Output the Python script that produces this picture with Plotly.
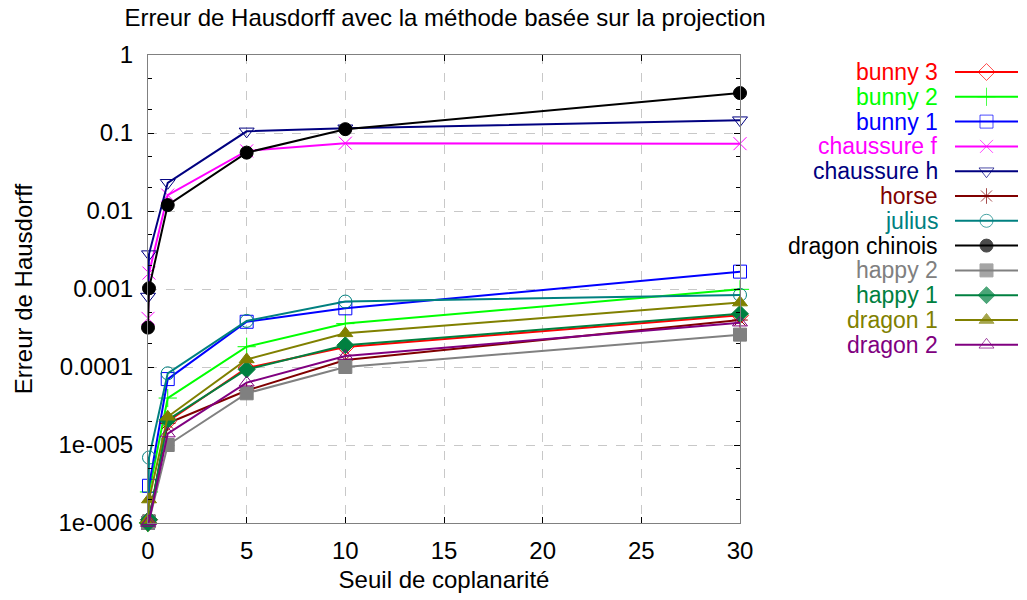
import plotly.graph_objects as go

# ---- data ----
x_seuil = [0, 0.05, 1, 5, 10, 30]

names = ["bunny 3", "bunny 2", "bunny 1", "chaussure f", "chaussure h", "horse",
         "julius", "dragon chinois", "happy 2", "happy 1", "dragon 1", "dragon 2"]

bunny_3 = [1e-6, 1.1e-6, 2.0e-5, 9.7e-5, 1.8e-4, 4.6e-4]
bunny_2 = [1e-6, 2.5e-6, 4.0e-5, 1.82e-4, 3.6e-4, 9.9e-4]
bunny_1 = [1e-6, 3.0e-6, 7.0e-5, 3.8e-4, 5.65e-4, 1.67e-3]
chaussure_f = [4.2e-4, 1.6e-3, 1.6e-2, 5.9e-2, 7.4e-2, 7.3e-2]
chaussure_h = [8.0e-4, 2.8e-3, 2.3e-2, 1.05e-1, 1.15e-1, 1.46e-1]
horse = [1e-6, 1.1e-6, 1.9e-5, 5.0e-5, 1.23e-4, 4.0e-4]
julius = [1e-6, 6.9e-6, 8.3e-5, 3.9e-4, 6.9e-4, 8.4e-4]
dragon_chinois = [3.2e-4, 1.02e-3, 1.19e-2, 5.6e-2, 1.12e-1, 3.25e-1]
happy_2 = [1e-6, 1.05e-6, 1.0e-5, 4.6e-5, 1.0e-4, 2.6e-4]
happy_1 = [1e-6, 1.1e-6, 2.1e-5, 9.3e-5, 1.9e-4, 4.8e-4]
dragon_1 = [1.1e-6, 2.0e-6, 2.3e-5, 1.25e-4, 2.7e-4, 6.7e-4]
dragon_2 = [1e-6, 1.05e-6, 1.4e-5, 6.3e-5, 1.38e-4, 3.7e-4]

series = [bunny_3, bunny_2, bunny_1, chaussure_f, chaussure_h, horse,
          julius, dragon_chinois, happy_2, happy_1, dragon_1, dragon_2]

colors = ["#ff0000", "#00ff00", "#0000ff", "#ff00ff", "#000080", "#800000",
          "#008080", "#000000", "#808080", "#008040", "#808000", "#800080"]
symbols = ["diamond-open", "cross-thin-open", "square-open", "x-thin-open",
           "triangle-down-open", "asterisk-open", "circle-open", "circle",
           "square", "diamond", "triangle-up", "triangle-up-open"]

y_tickvals = [1e-6, 1e-5, 1e-4, 1e-3, 1e-2, 1e-1, 1]
y_ticktext = ["1e-006", "1e-005", "0.0001", "0.001", "0.01", "0.1", "1"]
x_tickvals = [0, 5, 10, 15, 20, 25, 30]

FONT = "Liberation Sans, Arial, sans-serif"

# layout geometry (pixels)
W, H = 1027, 600
ML, MR, MT, MB = 148, 5, 55, 77
PW = W - ML - MR
PH = H - MT - MB
main_right = 740
leg_x0, leg_x1 = 955, 1018
leg_text_right = 940
leg_row0, leg_dy = 72, 24.8

def px_x(p):
    return (p - ML) / PW

def px_y(p):
    return (H - MB - p) / PH

fig = go.Figure()
for name, ys, c, s in zip(names, series, colors, symbols):
    fig.add_trace(go.Scatter(
        x=x_seuil, y=ys, mode="lines+markers", name=name,
        line=dict(color=c, width=2),
        marker=dict(symbol=s, size=13, color=c, line=dict(color=c, width=1)),
        cliponaxis=False, showlegend=False))

# custom gnuplot-style legend (text right-aligned, sample on the right)
n = len(names)
for i, (name, c, s) in enumerate(zip(names, colors, symbols)):
    fig.add_trace(go.Scatter(
        x=[0, 1, 2], y=[i, i, i], mode="lines+markers", xaxis="x2", yaxis="y2",
        line=dict(color=c, width=2),
        marker=dict(symbol=s, size=[0, 13, 0], color=c, line=dict(color=c, width=1)),
        showlegend=False, hoverinfo="skip", cliponaxis=False))
    fig.add_annotation(x=px_x(leg_text_right), y=px_y(leg_row0 + i * leg_dy),
                       xref="paper", yref="paper", text=name,
                       showarrow=False, xanchor="right", yanchor="middle",
                       font=dict(family=FONT, size=23, color=c))

y_top = leg_row0 - leg_dy / 2
y_bot = leg_row0 + (n - 1) * leg_dy + leg_dy / 2

fig.update_layout(
    width=W, height=H,
    margin=dict(l=ML, r=MR, t=MT, b=MB),
    paper_bgcolor="white", plot_bgcolor="white",
    font=dict(family=FONT, size=24, color="black"),
    title=dict(text="Erreur de Hausdorff avec la méthode basée sur la projection",
               x=px_x(445), xref="paper", xanchor="center",
               y=(H - 18) / H, yanchor="middle",
               font=dict(family=FONT, size=24)),
    xaxis=dict(domain=[0, px_x(main_right)], range=[0, 30], tickvals=x_tickvals,
               ticks="inside", ticklen=6, tickcolor="black", showline=True,
               linecolor="#808080", linewidth=1, mirror="ticks", showgrid=True,
               gridcolor="#c8c8c8", griddash="dash", gridwidth=1, zeroline=False,
               automargin=False, ticklabelstandoff=6, tickfont=dict(size=24),
               title=dict(text="Seuil de coplanarité", standoff=8,
                          font=dict(family=FONT, size=24))),
    yaxis=dict(type="log", range=[-6, 0], tickvals=y_tickvals, ticktext=y_ticktext,
               ticks="inside", ticklen=6, tickcolor="black", showline=True,
               linecolor="#808080", linewidth=1, mirror="ticks",
               showgrid=True, gridcolor="#c8c8c8", griddash="dash", gridwidth=1,
               zeroline=False, automargin=False, ticklabelstandoff=9,
               tickfont=dict(size=24),
               minor=dict(ticks="inside", ticklen=4, tickcolor="black", showgrid=False),
               title=dict(text="Erreur de Hausdorff", standoff=19,
                          font=dict(family=FONT, size=24))),
    xaxis2=dict(domain=[px_x(leg_x0), px_x(leg_x1)], range=[0, 2], visible=False,
                fixedrange=True, anchor="y2"),
    yaxis2=dict(domain=[px_y(y_bot), px_y(y_top)], range=[n - 0.5, -0.5],
                visible=False, fixedrange=True, anchor="x2"),
    showlegend=False,
)

fig.write_html("out.html", config={"displayModeBar": False},
               post_script="document.body.style.margin='0';document.body.style.padding='0';")
